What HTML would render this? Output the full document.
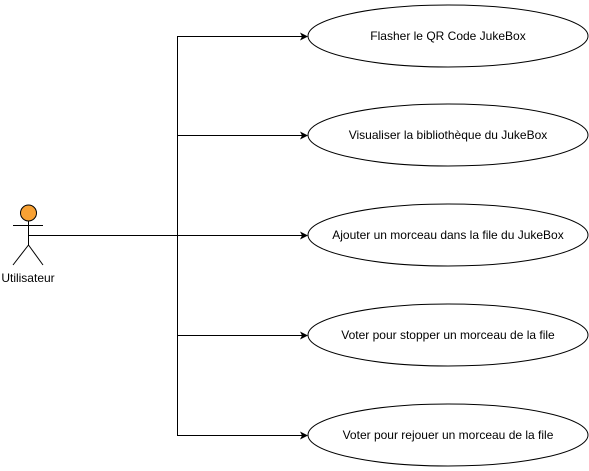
<!DOCTYPE html>
<html><head><style>body{margin:0;background:#fff}svg{display:block}</style></head><body>
<svg width="589" height="471" xmlns="http://www.w3.org/2000/svg" font-family="Liberation Sans, Arial, sans-serif" font-size="12">
<g stroke="#000" fill="none" stroke-width="1">
<line x1="28" y1="235.5" x2="177.5" y2="235.5"/>
<line x1="177.5" y1="36.5" x2="177.5" y2="435.5"/>
<line x1="177" y1="36.5" x2="302" y2="36.5"/>
<line x1="177" y1="135.5" x2="302" y2="135.5"/>
<line x1="177" y1="235.5" x2="302" y2="235.5"/>
<line x1="177" y1="335.5" x2="302" y2="335.5"/>
<line x1="177" y1="435.5" x2="302" y2="435.5"/>
<line x1="28.5" y1="221" x2="28.5" y2="245"/>
<line x1="13" y1="225.5" x2="43" y2="225.5"/>
<line x1="28.5" y1="245" x2="13" y2="265"/>
<line x1="28.5" y1="245" x2="43" y2="265"/>
</g>
<g fill="#000">
<path d="M308 36.5 L300 32.5 L302 36.5 L300 40.5Z"/>
<path d="M308 135.5 L300 131.5 L302 135.5 L300 139.5Z"/>
<path d="M308 235.5 L300 231.5 L302 235.5 L300 239.5Z"/>
<path d="M308 335.5 L300 331.5 L302 335.5 L300 339.5Z"/>
<path d="M308 435.5 L300 431.5 L302 435.5 L300 439.5Z"/>
</g>
<circle cx="28.5" cy="213" r="8" fill="#f7a134" stroke="#000"/>
<g fill="#fff" stroke="#000">
<ellipse cx="448" cy="36" rx="140" ry="31"/>
<ellipse cx="448" cy="135" rx="140" ry="31"/>
<ellipse cx="448" cy="235" rx="140" ry="31"/>
<ellipse cx="448" cy="335" rx="140" ry="31"/>
<ellipse cx="448" cy="435" rx="140" ry="31"/>
</g>
<g fill="#000" text-anchor="middle">
<text x="448" y="40">Flasher le QR Code JukeBox</text>
<text x="448" y="139">Visualiser la bibliothèque du JukeBox</text>
<text x="448" y="239">Ajouter un morceau dans la file du JukeBox</text>
<text x="448" y="339">Voter pour stopper un morceau de la file</text>
<text x="448" y="439">Voter pour rejouer un morceau de la file</text>
<text x="28" y="282">Utilisateur</text>
</g>
</svg>
</body></html>
